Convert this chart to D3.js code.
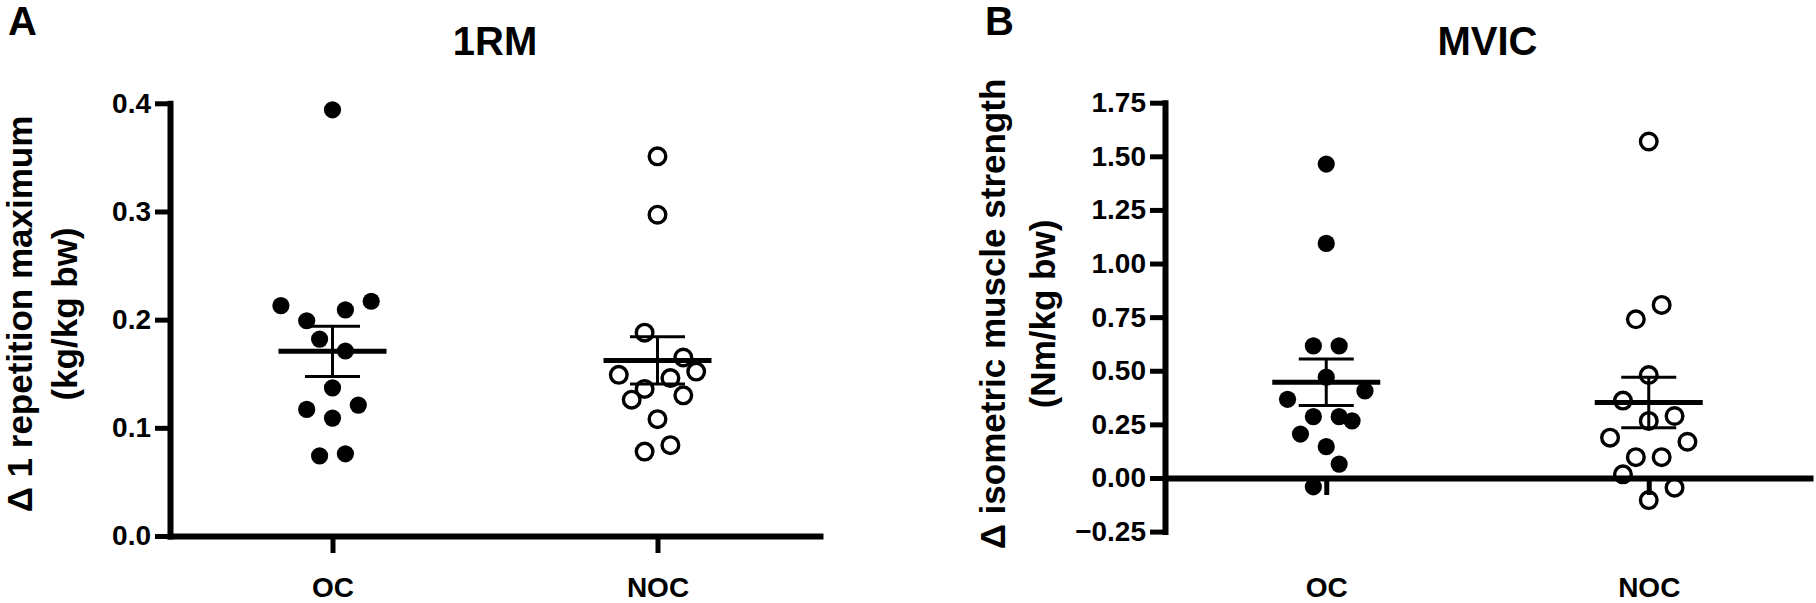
<!DOCTYPE html>
<html>
<head>
<meta charset="utf-8">
<script src="https://cdn.jsdelivr.net/npm/d3@7"></script>
<style>
  body { margin: 0; background: #fff; }
  text { font-family: "Liberation Sans", Arial, sans-serif; font-weight: bold; }
</style>
</head>
<body>
<script>
// groups on the x axis
var groups = ["OC", "NOC"]

// 1RM change (kg/kg bw), with the column lane each dot sits in
var rmOC      = [0.394, 0.213, 0.199, 0.209, 0.217, 0.182, 0.171, 0.137, 0.117, 0.121, 0.109, 0.074, 0.076]
var rmOCLane  = [0, -4, -2, 1, 3, -1, 1, 0, -2, 2, 0, -1, 1]
var rmNOC     = [0.351, 0.297, 0.188, 0.165, 0.152, 0.149, 0.146, 0.136, 0.126, 0.130, 0.108, 0.078, 0.084]
var rmNOCLane = [0, 0, -1, 2, 3, -3, 1, -1, -2, 2, 0, -1, 1]
var rmTicks   = [0, 0.1, 0.2, 0.3, 0.4]

// MVIC change (Nm/kg bw)
var mvicOC      = [1.464, 1.094, 0.616, 0.616, 0.470, 0.367, 0.406, 0.286, 0.286, 0.266, 0.205, 0.146, 0.065, -0.041]
var mvicOCLane  = [0, 0, -1, 1, 0, -3, 3, -1, 1, 2, -2, 0, 1, -1]
var mvicNOC     = [1.569, 0.740, 0.807, 0.480, 0.361, 0.289, 0.266, 0.188, 0.169, 0.097, 0.097, 0.017, -0.045, -0.103]
var mvicNOCLane = [0, -1, 1, 0, -2, 2, 0, -3, 3, -1, 1, -2, 2, 0]
var mvicTicks   = [-0.25, 0, 0.25, 0.5, 0.75, 1.0, 1.25, 1.5, 1.75]

var W = 1816, H = 603
var svg = d3.select("body").append("svg")
  .attr("width", W).attr("height", H)

svg.append("rect").attr("width", W).attr("height", H).attr("fill", "#fff")

function sem(v) {
  return d3.deviation(v) / Math.sqrt(v.length)
}

function panel(o) {
  var y = d3.scaleLinear().domain(o.yDomain).range([o.yBottom, o.yTop])
  var x = d3.scalePoint().domain(groups).range([o.x0, o.x1]).padding(0.5)
  var lane = d3.scaleLinear().domain([0, 1]).range([0, 12.9])
  var g = svg.append("g")

  // letter + title
  g.append("text").attr("x", o.letterX).attr("y", 35)
    .attr("font-size", 40).text(o.letter)
  g.append("text").attr("x", (o.x0 + o.x1) / 2).attr("y", 55)
    .attr("text-anchor", "middle").attr("font-size", 40).text(o.title)

  // y axis title, two lines
  var cy = 314
  g.append("text").attr("transform", "translate(" + o.t1 + "," + cy + ") rotate(-90)")
    .attr("text-anchor", "middle").attr("font-size", 35).text(o.ylab1)
  g.append("text").attr("transform", "translate(" + o.t2 + "," + cy + ") rotate(-90)")
    .attr("text-anchor", "middle").attr("font-size", 35).text(o.ylab2)

  // y axis
  var ya = g.append("g")
    .attr("transform", "translate(" + o.x0 + ",0)")
    .call(d3.axisLeft(y).tickValues(o.ticks).tickFormat(d3.format(o.fmt))
      .tickSize(15).tickSizeOuter(0).tickPadding(4))
  ya.attr("font-size", 28).attr("font-family", null)
  ya.select(".domain").attr("stroke-width", 6).attr("stroke-linecap", "square")
  ya.selectAll(".tick line").attr("stroke-width", 5)
  ya.selectAll(".tick text").attr("fill", "#000")

  // x axis (sits at y = 0)
  var ax = y(0)
  var xa = g.append("g")
    .attr("transform", "translate(0," + ax + ")")
    .call(d3.axisBottom(x).tickSize(17).tickSizeOuter(0))
  xa.attr("font-size", 28).attr("font-family", null)
  xa.select(".domain").attr("stroke-width", 6).attr("stroke-linecap", "square")
  xa.selectAll(".tick line").attr("stroke-width", 5)
  xa.selectAll(".tick text").attr("fill", "#000")
    .attr("y", o.labelY - ax).attr("dy", 0)

  // dots
  o.series.forEach(function (s, i) {
    var cx = x(groups[i])
    g.selectAll(null).data(s.values).enter().append("circle")
      .attr("cx", function (d, k) { return cx + lane(s.lanes[k]) })
      .attr("cy", function (d) { return y(d) })
      .attr("r", s.open ? 8.3 : 8.6)
      .attr("fill", s.open ? "none" : "#000")
      .attr("stroke", s.open ? "#000" : "none")
      .attr("stroke-width", 3.4)

    // mean +- SEM
    var m = d3.mean(s.values), e = sem(s.values)
    g.append("line").attr("x1", cx - 54).attr("x2", cx + 54)
      .attr("y1", y(m)).attr("y2", y(m)).attr("stroke", "#000").attr("stroke-width", 5)
    g.append("line").attr("x1", cx).attr("x2", cx)
      .attr("y1", y(m - e)).attr("y2", y(m + e)).attr("stroke", "#000").attr("stroke-width", 3)
    ;[m - e, m + e].forEach(function (v) {
      g.append("line").attr("x1", cx - 27.5).attr("x2", cx + 27.5)
        .attr("y1", y(v)).attr("y2", y(v)).attr("stroke", "#000").attr("stroke-width", 3)
    })
  })
}

panel({
  letter: "A", letterX: 8, title: "1RM",
  ylab1: "\u0394 1 repetition maximum", ylab2: "(kg/kg bw)", t1: 32, t2: 77,
  yDomain: [0, 0.4], yBottom: 536, yTop: 103.3, ticks: rmTicks, fmt: ".1f",
  x0: 170, x1: 820, labelY: 597,
  series: [
    { values: rmOC, lanes: rmOCLane, open: false },
    { values: rmNOC, lanes: rmNOCLane, open: true }
  ]
})

panel({
  letter: "B", letterX: 985, title: "MVIC",
  ylab1: "\u0394 isometric muscle strength", ylab2: "(Nm/kg bw)", t1: 1005, t2: 1055,
  yDomain: [-0.25, 1.75], yBottom: 531.6, yTop: 102.7, ticks: mvicTicks, fmt: ".2f",
  x0: 1165, x1: 1810, labelY: 597,
  series: [
    { values: mvicOC, lanes: mvicOCLane, open: false },
    { values: mvicNOC, lanes: mvicNOCLane, open: true }
  ]
})
</script>
</body>
</html>
